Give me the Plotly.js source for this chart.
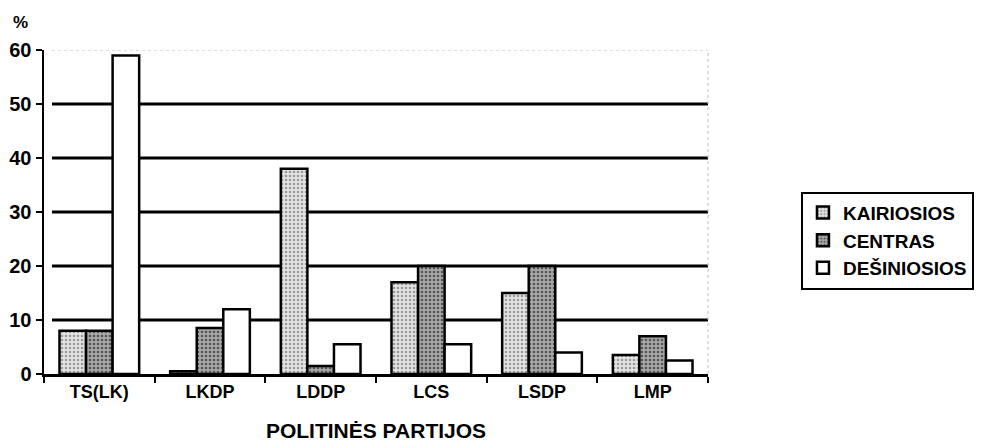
<!DOCTYPE html>
<html>
<head>
<meta charset="utf-8">
<script src="https://cdn.plot.ly/plotly-3.0.1.min.js"></script>
<style>html,body{margin:0;padding:0;background:#fff;}#chart{width:981px;height:448px;}</style>
</head>
<body>
<div id="chart"></div>
<script>
const categories = ["TS(LK)", "LKDP", "LDDP", "LCS", "LSDP", "LMP"];
const seriesNames = ["KAIRIOSIOS", "CENTRAS", "DEŠINIOSIOS"];
const kairiosios = [8, 0.5, 38, 17, 15, 3.5];
const centras = [8, 8.5, 1.5, 20, 20, 7];
const desiniosios = [59, 12, 5.5, 5.5, 4, 2.5];
const yTicks = [0, 10, 20, 30, 40, 50, 60];

const fam = "Liberation Sans, Arial, sans-serif";

function bar(name, vals, bg, fg, pat) {
  return {
    type: "bar", name: name, x: categories, y: vals,
    marker: {
      color: bg,
      line: {color: "#000", width: 2.5},
      pattern: pat ? {shape: ".", fgcolor: fg, bgcolor: bg, size: 4, solidity: 0.35} : undefined
    },
    hoverinfo: "skip"
  };
}

const data = [
  bar(seriesNames[0], kairiosios, "#e4e4e4", "#9a9a9a", true),
  bar(seriesNames[1], centras, "#a8a8a8", "#555555", true),
  bar(seriesNames[2], desiniosios, "#ffffff", "#ffffff", false)
];

const gridShapes = yTicks.filter(v => v > 0 && v < 60).map(v => ({
  type: "line", xref: "paper", x0: 0.012, x1: 1, yref: "y", y0: v, y1: v,
  line: {color: "#000", width: 2.8}, layer: "below"
}));
gridShapes.push({
  type: "line", xref: "paper", x0: 0.012, x1: 1, yref: "y", y0: 60, y1: 60,
  line: {color: "#bbb", width: 1, dash: "dot"}, layer: "below"
});
gridShapes.push({
  type: "line", xref: "paper", x0: 1, x1: 1, yref: "y", y0: 0, y1: 60,
  line: {color: "#bbb", width: 1, dash: "dot"}, layer: "below"
});

const layout = {
  width: 981, height: 448,
  margin: {l: 44, r: 273, t: 50, b: 74, autoexpand: false},
  paper_bgcolor: "#fff", plot_bgcolor: "#fff",
  font: {family: fam, color: "#000", size: 18, weight: "bold"},
  barmode: "group", bargap: 0.28, bargroupgap: 0,
  showlegend: true,
  legend: {
    x: 1.14, y: 0.563, xanchor: "left", yanchor: "top",
    bordercolor: "#000", borderwidth: 2, bgcolor: "#fff",
    font: {family: fam, size: 19, color: "#000", weight: "bold"},
    tracegroupgap: 0, itemwidth: 30
  },
  xaxis: {
    type: "category", tickson: "boundaries", automargin: false,
    ticks: "outside", ticklen: 6, tickwidth: 2, tickcolor: "#000",
    showline: true, linecolor: "#000", linewidth: 2.5,
    showgrid: false, zeroline: false,
    tickfont: {family: fam, size: 18, color: "#000", weight: "bold"},
    title: {text: "POLITINĖS PARTIJOS", standoff: 22,
            font: {family: fam, size: 21, color: "#000", weight: "bold"}}
  },
  yaxis: {
    range: [0, 60], tickvals: yTicks, ticktext: yTicks.map(String), automargin: false,
    ticks: "outside", ticklen: 6, tickwidth: 2, tickcolor: "#000",
    showline: true, linecolor: "#000", linewidth: 2.5,
    showgrid: false, zeroline: false,
    tickfont: {family: fam, size: 20, color: "#000", weight: "bold"}
  },
  shapes: gridShapes,
  annotations: [{
    text: "%", xref: "paper", yref: "paper", x: -0.036, y: 1.05,
    xanchor: "center", yanchor: "bottom", showarrow: false,
    font: {family: fam, size: 17, color: "#000", weight: "bold"}
  }]
};

Plotly.newPlot("chart", data, layout, {displayModeBar: false, staticPlot: true});
</script>
</body>
</html>
